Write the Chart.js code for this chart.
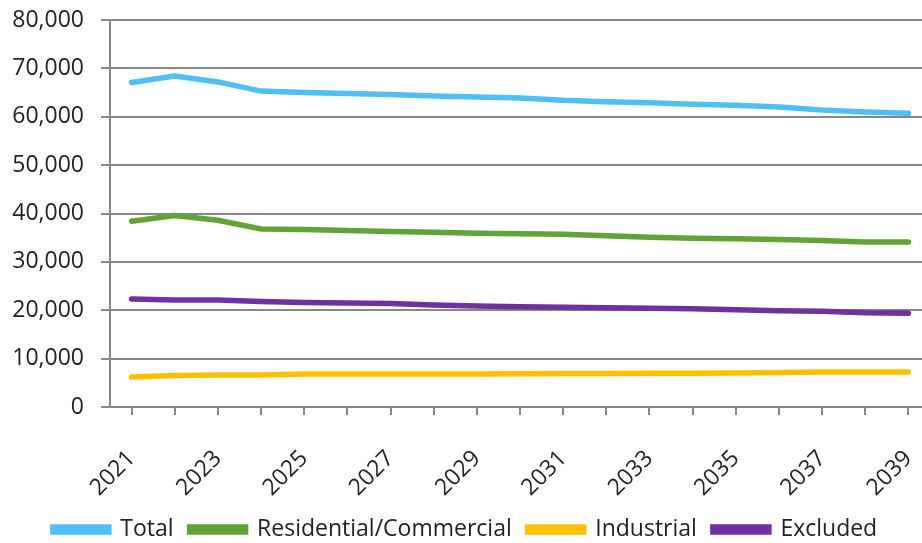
<!DOCTYPE html>
<html>
<head>
<meta charset="utf-8">
<script src="https://cdn.jsdelivr.net/npm/chart.js@4.4.1/dist/chart.umd.min.js"></script>
<style>
  html, body { margin: 0; padding: 0; background: #fff; overflow: hidden; }
  #wrap { width: 930px; height: 543px; }
</style>
</head>
<body>
<div id="wrap"><canvas id="chart"></canvas></div>
<script>
var years = ['2021','2022','2023','2024','2025','2026','2027','2028','2029','2030',
             '2031','2032','2033','2034','2035','2036','2037','2038','2039'];
var total = [67100, 68400, 67200, 65300, 65000, 64800, 64600, 64300, 64100, 63900,
             63400, 63100, 62900, 62600, 62400, 62000, 61400, 61000, 60700];
var residential = [38400, 39600, 38600, 36800, 36700, 36500, 36300, 36100, 35900, 35800,
                   35700, 35400, 35100, 34900, 34800, 34600, 34400, 34100, 34100];
var industrial = [6200, 6500, 6600, 6600, 6800, 6800, 6800, 6800, 6800, 6850,
                  6900, 6950, 7000, 7000, 7050, 7150, 7250, 7250, 7250];
var excluded = [22300, 22100, 22100, 21800, 21600, 21500, 21400, 21100, 20900, 20700,
                20600, 20500, 20400, 20300, 20100, 19900, 19800, 19500, 19400];

var axisGray = '#878787';
var font = { family: "'Open Sans', 'Noto Sans', sans-serif", size: 23 };

function serie(label, data, color) {
   return {
      label: label,
      data: data,
      borderColor: color,
      backgroundColor: color,
      borderWidth: 5.5,
      pointRadius: 0,
      tension: 0,
      borderCapStyle: 'round'
   };
}

const ctx = document.getElementById('chart').getContext('2d');
const myChart = new Chart(ctx, {
   type: 'line',
   data: {
      labels: years,
      datasets: [
         serie('Total', total, '#50BFF3'),
         serie('Residential/Commercial', residential, '#62A337'),
         serie('Industrial', industrial, '#FFC000'),
         serie('Excluded', excluded, '#7030A0')
      ]
   },
   options: {
      responsive: true,
      maintainAspectRatio: false,
      animation: false,
      layout: { padding: { top: 20, left: 0, right: 0, bottom: 0 } },
      plugins: {
         tooltip: { enabled: false },
         legend: {
            position: 'bottom',
            maxHeight: 41,
            labels: {
               color: '#222',
               font: { family: font.family, size: 23 },
               boxWidth: 56,
               boxHeight: 5,
               padding: 16
            }
         }
      },
      scales: {
         x: {
            offset: true,
            afterFit: function (s) {
               s.height = 95;
               s.paddingLeft = 0;
               s.paddingRight = 0;
            },
            grid: { drawOnChartArea: false, drawTicks: true, tickLength: 8, color: axisGray, lineWidth: 2 },
            border: { color: axisGray, width: 2 },
            ticks: {
               color: '#222',
               font: font,
               autoSkip: false,
               maxRotation: 45,
               minRotation: 45,
               padding: 30,
               callback: function (v, i) { return i % 2 === 0 ? years[i] : ''; }
            }
         },
         y: {
            min: 0,
            max: 80000,
            afterFit: function (s) {
               s.width = 110;
               s.paddingTop = 0;
               s.paddingBottom = 0;
            },
            grid: { color: axisGray, lineWidth: 2, tickLength: 9 },
            border: { color: axisGray, width: 2 },
            ticks: {
               stepSize: 10000,
               color: '#222',
               font: font,
               padding: 17,
               callback: function (v) { return v.toLocaleString('en-US'); }
            }
         }
      }
   }
});
</script>
</body>
</html>
